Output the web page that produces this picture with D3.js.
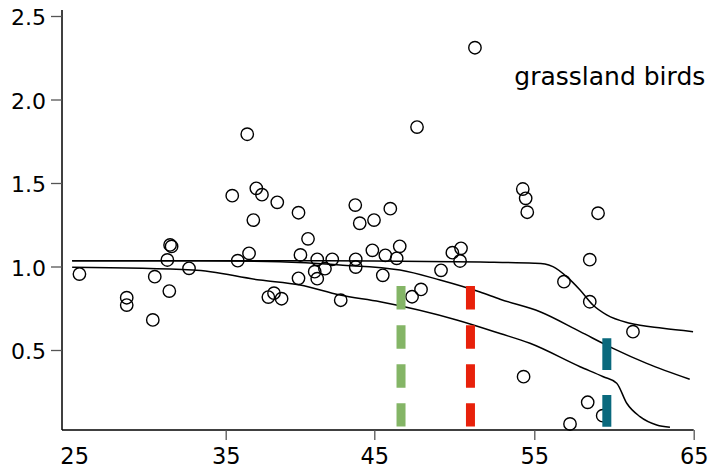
<!DOCTYPE html>
<html>
<head>
<meta charset="utf-8">
<script src="https://cdn.jsdelivr.net/npm/d3@7"></script>
<style>
  html, body { margin: 0; padding: 0; background: #fff; }
  svg { display: block; }
  text { font-family: "DejaVu Sans", sans-serif; fill: #000; }
</style>
</head>
<body>
<svg id="chart" width="711" height="471"></svg>
<script>
// ---------- data ----------
const xTicks = [25, 35, 45, 55, 65];
const yTicks = [0.5, 1.0, 1.5, 2.0, 2.5];
const seriesLabel = "grassland birds";

const pointX = [25.35, 28.47, 28.47, 30.19, 30.32, 31.28, 31.15, 31.33, 31.43, 32.58,
  35.44, 36.45, 35.81, 36.57, 36.86, 37.06, 37.44, 38.47, 37.87, 38.25,
  38.76, 39.90, 40.03, 39.90, 40.54, 41.16, 42.17, 40.99, 41.68, 41.16,
  42.74, 43.72, 44.02, 44.98, 46.00, 43.75, 43.75, 44.87, 45.69, 46.40,
  46.59, 45.53, 47.36, 47.92, 47.67, 49.17, 49.88, 50.42, 50.36, 51.29,
  54.28, 54.46, 54.56, 59.00, 58.48, 56.86, 58.48, 61.19, 54.33, 58.35,
  59.29, 57.24];
const pointY = [0.955, 0.813, 0.769, 0.680, 0.939, 0.853, 1.039, 1.129, 1.120, 0.989,
  1.424, 1.792, 1.035, 1.079, 1.278, 1.468, 1.430, 1.384, 0.817, 0.840,
  0.807, 1.322, 1.069, 0.929, 1.166, 1.043, 1.043, 0.969, 0.987, 0.927,
  0.798, 1.368, 1.259, 1.278, 1.346, 1.043, 0.997, 1.097, 1.067, 1.049,
  1.121, 0.947, 0.819, 0.863, 1.835, 0.977, 1.083, 1.109, 1.033, 2.310,
  1.464, 1.408, 1.325, 1.319, 1.041, 0.909, 0.789, 0.610, 0.340, 0.187,
  0.107, 0.057];

const upperX = [24.87, 35, 45, 51.61, 55, 55.67, 56.17, 57.03, 57.87, 58.68, 59.54, 61.0, 63.07, 64.96];
const upperY = [1.035, 1.035, 1.033, 1.027, 1.020, 1.015, 0.999, 0.939, 0.859, 0.769, 0.710, 0.660, 0.630, 0.610];

const middleX = [24.87, 33.31, 38.65, 42.69, 46.61, 49.11, 51.61, 52.86, 55.36, 57.87, 59.94, 62.05, 64.75];
const middleY = [1.035, 1.034, 1.028, 1.009, 0.979, 0.919, 0.847, 0.804, 0.729, 0.610, 0.510, 0.420, 0.325];

const lowerX = [24.87, 32.84, 37.31, 40.0, 42.69, 45.36, 50.15, 52.86, 54.73, 57.87, 59.33, 60.17, 60.80, 61.63, 62.68, 63.51];
const lowerY = [0.995, 0.979, 0.919, 0.889, 0.829, 0.789, 0.680, 0.599, 0.540, 0.400, 0.340, 0.301, 0.181, 0.101, 0.051, 0.037];

// vertical dashed markers
const markerNames = ["green", "red", "teal"];
const markerX = [46.67, 51.01, 59.55];
const markerTop = [0.883, 0.883, 0.570];
const markerBottom = [0.042, 0.042, 0.040];
const markerColor = ["#84b566", "#e8210b", "#0a697d"];
const markerDash = ["23.5,15.6", "23.5,15.6", "31.7,25"];

// ---------- layout ----------
const svg = d3.select("#chart");
const x = d3.scaleLinear()
  .domain([24.2, 35, 45, 55, 65])
  .range([62, 225.7, 374.3, 534.3, 693.7]);
const y = d3.scaleLinear().domain([0, 2.5]).range([433.5, 16]);
const xAxisExtent = [24.2, 65];
const yAxisExtent = [0.021, 2.536];

// axes lines
svg.append("line")
  .attr("x1", x(xAxisExtent[0])).attr("x2", x(xAxisExtent[1]))
  .attr("y1", y(yAxisExtent[0])).attr("y2", y(yAxisExtent[0]))
  .attr("stroke", "#000").attr("stroke-width", 1.5);
svg.append("line")
  .attr("x1", x(xAxisExtent[0])).attr("x2", x(xAxisExtent[0]))
  .attr("y1", y(yAxisExtent[0])).attr("y2", y(yAxisExtent[1]))
  .attr("stroke", "#000").attr("stroke-width", 1.5);

// x axis
const gx = svg.append("g")
  .attr("transform", `translate(0,${y(yAxisExtent[0])})`)
  .call(d3.axisBottom(x).tickValues(xTicks).tickFormat(d3.format("d"))
    .tickSize(10).tickSizeOuter(0).tickPadding(8));
gx.select(".domain").remove();
gx.selectAll(".tick line").attr("stroke", "#555").attr("stroke-width", 1.3);
gx.selectAll(".tick").filter(d => d === 25).select("line").remove();
gx.selectAll(".tick text").attr("font-size", 22.5).attr("font-family", "DejaVu Sans, sans-serif").attr("fill", "#000");

// y axis
const gy = svg.append("g")
  .attr("transform", `translate(${x(xAxisExtent[0])},0)`)
  .call(d3.axisLeft(y).tickValues(yTicks).tickFormat(d3.format(".1f"))
    .tickSize(11).tickSizeOuter(0).tickPadding(5));
gy.select(".domain").remove();
gy.selectAll(".tick line").attr("stroke", "#555").attr("stroke-width", 1.3);
gy.selectAll(".tick text").attr("font-size", 22).attr("dy", "0.40em")
  .attr("font-family", "DejaVu Sans, sans-serif").attr("fill", "#000");

// fitted lines
const lineGen = d3.line().x(d => x(d[0])).y(d => y(d[1])).curve(d3.curveMonotoneX);
[[upperX, upperY], [middleX, middleY], [lowerX, lowerY]].forEach(([xs, ys]) => {
  svg.append("path")
    .datum(xs.map((v, i) => [v, ys[i]]))
    .attr("d", lineGen)
    .attr("fill", "none")
    .attr("stroke", "#000")
    .attr("stroke-width", 1.5);
});

// points
svg.append("g").selectAll("circle")
  .data(pointX.map((v, i) => [v, pointY[i]]))
  .join("circle")
  .attr("cx", d => x(d[0]))
  .attr("cy", d => y(d[1]))
  .attr("r", 6.2)
  .attr("fill", "none")
  .attr("stroke", "#000")
  .attr("stroke-width", 1.4);

// dashed markers
svg.append("g").selectAll("line")
  .data(markerNames.map((n, i) => i))
  .join("line")
  .attr("x1", i => x(markerX[i])).attr("x2", i => x(markerX[i]))
  .attr("y1", i => y(markerTop[i])).attr("y2", i => y(markerBottom[i]))
  .attr("stroke", i => markerColor[i])
  .attr("stroke-width", 9)
  .attr("stroke-dasharray", i => markerDash[i]);

// label
svg.append("text")
  .attr("x", x(53.75)).attr("y", y(2.085))
  .attr("font-size", 25)
  .text(seriesLabel);
</script>
</body>
</html>
